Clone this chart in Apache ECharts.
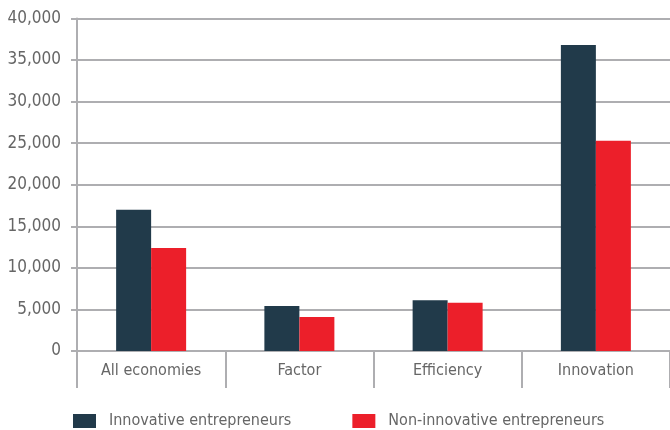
<!DOCTYPE html>
<html>
<head>
<meta charset="utf-8">
<script src="https://cdn.jsdelivr.net/npm/echarts@6/dist/echarts.min.js"></script>
<style>
  html, body { margin: 0; padding: 0; background: #fff; }
  #chart { width: 670px; height: 430px; }
</style>
</head>
<body>
<div id="chart"></div>
<script>
var categories = ['All economies', 'Factor', 'Efficiency', 'Innovation'];
var innovative = [17000, 5400, 6100, 36800];
var nonInnovative = [12400, 4100, 5800, 25300];
var seriesNames = ['Innovative entrepreneurs', 'Non-innovative entrepreneurs'];

var FONT = '"DejaVu Sans Condensed", "Roboto", sans-serif';
var AXIS_GREY = '#aeaeb1';

var chart = echarts.init(document.getElementById('chart'));
chart.setOption({
  animation: false,
  textStyle: { fontFamily: FONT },
  color: ['#213a4a', '#ec1f2a'],
  grid: { left: 77, right: 0, top: 18.5, bottom: 79, containLabel: false },
  legend: {
    top: 413,
    left: 73,
    itemWidth: 23,
    itemHeight: 14,
    itemGap: 61,
    icon: 'rect',
    padding: 0,
    textStyle: { fontFamily: FONT, fontSize: 16, color: '#666', padding: [0, 0, 0, 8] },
    data: seriesNames
  },
  xAxis: {
    type: 'category',
    data: categories,
    axisLine: { show: true, lineStyle: { color: AXIS_GREY, width: 2 } },
    axisTick: { show: true, length: 37, lineStyle: { color: AXIS_GREY, width: 2 } },
    axisLabel: { fontFamily: FONT, fontSize: 16, color: '#666', margin: 12 }
  },
  yAxis: {
    type: 'value',
    min: 0,
    max: 40000,
    interval: 5000,
    axisLine: { show: true, lineStyle: { color: AXIS_GREY, width: 2 } },
    axisTick: { show: true, length: 6, lineStyle: { color: AXIS_GREY, width: 2 } },
    splitLine: { lineStyle: { color: AXIS_GREY, width: 2 } },
    axisLabel: {
      fontFamily: FONT, fontSize: 17, color: '#666', margin: 16,
      formatter: function (v) { return v.toLocaleString('en-US'); }
    }
  },
  series: [
    { name: seriesNames[0], type: 'bar', data: innovative, barWidth: 35, barGap: '0%' },
    { name: seriesNames[1], type: 'bar', data: nonInnovative, barWidth: 35, barGap: '0%' }
  ]
});
</script>
</body>
</html>
